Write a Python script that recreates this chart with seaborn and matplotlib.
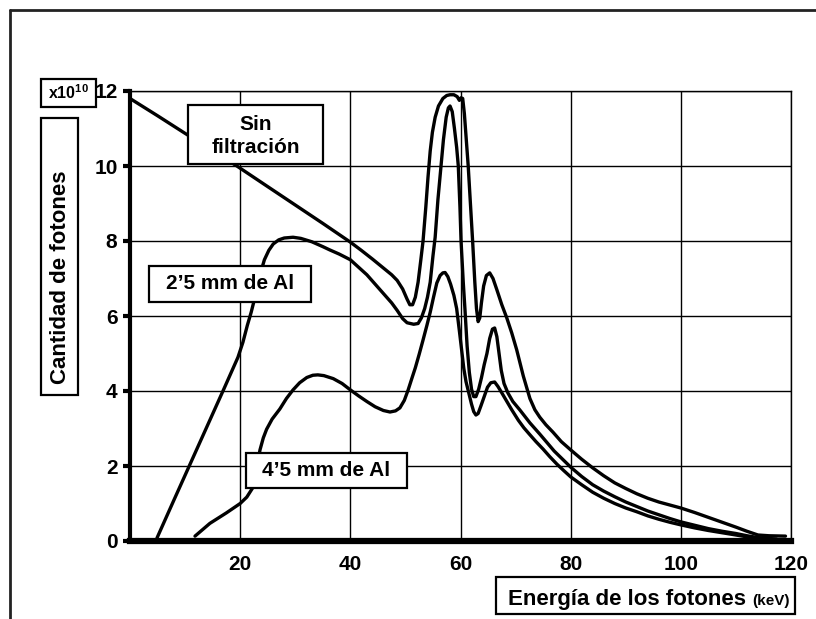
import numpy as np
import pandas as pd
import matplotlib
matplotlib.use("Agg")
import matplotlib.pyplot as plt
from matplotlib.patches import Rectangle
from matplotlib.lines import Line2D
from matplotlib import font_manager
import seaborn as sns

# ─── DATA ─────────────────────────────────────────────────────────────────────
sin_x = [0, 5, 10, 15, 19.4, 25, 30, 35, 40, 42, 44, 46, 47.5, 48.5, 49.5, 50.3,
         50.8, 51.3, 51.8, 52.3, 52.8, 53.2, 53.7, 54.1, 54.5, 54.9, 55.4, 56.0,
         56.8, 57.5, 58.1, 58.8, 59.4, 59.8, 60.1, 60.4, 60.7, 61.0, 61.4, 61.8,
         62.2, 62.6, 62.9, 63.2, 63.5, 63.8, 64.2, 64.7, 65.3, 65.9, 66.6, 67.5,
         68.4, 69.3, 70.2, 71.4, 72.6, 73.5, 74.4, 75.5, 76.8, 78.3, 80, 82, 84,
         86, 88, 90, 92, 94, 96, 98, 100, 102.5, 105, 107.5, 110, 112, 114, 116,
         119]
sin_y = [11.8, 11.34, 10.87, 10.41, 10.0, 9.45, 8.96, 8.47, 7.97, 7.75, 7.52,
         7.28, 7.1, 6.95, 6.72, 6.45, 6.3, 6.3, 6.5, 6.9, 7.5, 8.0, 8.9, 9.7,
         10.4, 10.9, 11.3, 11.6, 11.8, 11.88, 11.9, 11.9, 11.85, 11.75, 11.82,
         11.8, 11.4, 10.8, 10.0, 9.0, 8.0, 6.9, 6.2, 5.85, 5.95, 6.35, 6.8, 7.08,
         7.15, 7.0, 6.7, 6.3, 5.95, 5.55, 5.1, 4.4, 3.8, 3.5, 3.3, 3.1, 2.9, 2.65,
         2.43, 2.18, 1.95, 1.74, 1.55, 1.4, 1.26, 1.14, 1.04, 0.96, 0.88, 0.76,
         0.63, 0.5, 0.37, 0.26, 0.16, 0.14, 0.13]

al25_x = [4.9, 8, 11, 14, 17, 19.6, 20.5, 21.3, 22, 22.6, 23.2, 23.8, 24.4, 25.2,
          26, 27, 28, 29.6, 31, 33, 35, 36.3, 38, 40, 41.5, 43, 44.5, 46, 47.5,
          48.5, 49.5, 50.3, 51.5, 52.3, 52.9, 53.5, 54.0, 54.5, 55.0, 55.4, 55.9,
          56.4, 56.9, 57.4, 57.8, 58.1, 58.5, 58.9, 59.3, 59.6, 59.9, 60.1, 60.5,
          60.8, 61.2, 61.6, 62.0, 62.4, 62.8, 63.3, 63.8, 64.3, 64.8, 65.3, 65.8,
          66.2, 66.6, 67.0, 67.4, 67.9, 68.6, 69.5, 70.8, 72.6, 74.4, 77, 80, 82,
          84, 86, 88, 90, 92, 94, 96, 98, 100, 102.5, 105, 107.5, 110, 112, 114,
          117.4]
al25_y = [0.08, 1.1, 2.08, 3.06, 4.04, 4.9, 5.3, 5.75, 6.1, 6.45, 6.85, 7.2, 7.5,
          7.75, 7.92, 8.03, 8.08, 8.1, 8.07, 7.98, 7.85, 7.76, 7.65, 7.5, 7.3,
          7.1, 6.85, 6.6, 6.35, 6.15, 5.93, 5.82, 5.78, 5.8, 5.95, 6.2, 6.5, 6.9,
          7.6, 8.1, 9.1, 9.9, 10.7, 11.3, 11.55, 11.6, 11.45, 11.0, 10.5, 10.0,
          8.9, 8.0, 6.9, 6.2, 5.2, 4.5, 4.05, 3.85, 3.85, 4.05, 4.35, 4.7, 5.0,
          5.4, 5.65, 5.68, 5.45, 5.0, 4.55, 4.2, 3.95, 3.72, 3.49, 3.15, 2.85,
          2.4, 1.97, 1.72, 1.5, 1.33, 1.18, 1.04, 0.92, 0.8, 0.7, 0.6, 0.51, 0.42,
          0.33, 0.26, 0.2, 0.14, 0.09, 0.05]

al45_x = [11.8, 14.5, 17.5, 20, 21.2, 22.2, 22.8, 23.2, 23.6, 24.2, 24.8, 25.8,
          27.2, 28.4, 29.6, 30.8, 32.1, 33.2, 34.1, 35.2, 36.9, 38.5, 40, 41.5,
          43, 44.5, 46, 47.2, 48.2, 49, 49.8, 50.5, 51.2, 51.8, 52.5, 53.2, 53.9,
          54.5, 55.1, 55.7, 56.3, 56.8, 57.2, 57.7, 58.2, 58.8, 59.3, 59.8, 60.2,
          60.6, 61.0, 61.5, 62.0, 62.4, 62.8, 63.2, 63.7, 64.3, 64.9, 65.5, 66.2,
          66.8, 67.5, 68.3, 69.3, 70.5, 71.5, 72.5, 73.7, 75, 76.2, 77.5, 78.8,
          80, 82, 84, 86, 88, 90, 92, 94, 96, 98, 100, 102.5, 105, 107.5, 110,
          112, 114, 117.4]
al45_y = [0.13, 0.47, 0.75, 1.0, 1.17, 1.4, 1.7, 2.1, 2.43, 2.75, 2.98, 3.25,
          3.52, 3.8, 4.03, 4.22, 4.36, 4.42, 4.43, 4.41, 4.33, 4.2, 4.03, 3.87,
          3.72, 3.58, 3.48, 3.44, 3.47, 3.55, 3.75, 4.03, 4.35, 4.62, 4.98, 5.36,
          5.75, 6.1, 6.5, 6.88, 7.08, 7.15, 7.16, 7.05, 6.85, 6.55, 6.2, 5.6, 5.1,
          4.6, 4.25, 3.95, 3.65, 3.45, 3.36, 3.4, 3.6, 3.85, 4.1, 4.22, 4.24,
          4.12, 3.95, 3.75, 3.5, 3.22, 3.02, 2.85, 2.65, 2.45, 2.25, 2.05, 1.87,
          1.71, 1.5, 1.3, 1.14, 1.0, 0.88, 0.78, 0.67, 0.58, 0.5, 0.43, 0.35,
          0.28, 0.22, 0.16, 0.11, 0.08, 0.04]

x_ticks = [20, 40, 60, 80, 100, 120]
y_ticks = [0, 2, 4, 6, 8, 10, 12]

df = pd.concat([
    pd.DataFrame({"energia": sin_x, "fotones": sin_y, "filtro": "sin"}),
    pd.DataFrame({"energia": al25_x, "fotones": al25_y, "filtro": "al25"}),
    pd.DataFrame({"energia": al45_x, "fotones": al45_y, "filtro": "al45"}),
])

# ─── STYLE ────────────────────────────────────────────────────────────────────
sns.set_theme(style="white")
plt.rcParams.update({
    "font.family": ["Liberation Sans", "DejaVu Sans"],
    "font.weight": "bold",
    "mathtext.fontset": "custom",
    "mathtext.rm": "Liberation Sans:bold",
    "mathtext.bf": "Liberation Sans:bold",
})
installed = {f.name for f in font_manager.fontManager.ttflist}
narrow = "Liberation Sans Narrow" if "Liberation Sans Narrow" in installed else "Liberation Sans"

W, H = 816, 619
fig = plt.figure(figsize=(W / 100, H / 100), dpi=100)
ax = fig.add_axes([130 / W, 1 - 541 / H, (791 - 130) / W, (541 - 91) / H])

for name, g in df.groupby("filtro", sort=False):
    sns.lineplot(data=g, x="energia", y="fotones", ax=ax, color="black",
                 linewidth=2.4, sort=False, estimator=None, legend=False,
                 solid_capstyle="round", solid_joinstyle="round", zorder=3)

ax.set_xlim(0, 120)
ax.set_ylim(0, 12)
ax.set_xticks(x_ticks)
ax.set_yticks(y_ticks)
ax.set_xticklabels([str(t) for t in x_ticks], fontsize=15, fontweight="bold")
ax.set_yticklabels([str(t) for t in y_ticks], fontsize=15, fontweight="bold",
                   family=[narrow, "DejaVu Sans"])
ax.tick_params(axis="x", length=0, pad=10, colors="black")
ax.tick_params(axis="y", length=5, width=3, pad=4, colors="black", left=True)
ax.set_xlabel("")
ax.set_ylabel("")
ax.grid(True, color="black", linewidth=1.0)
ax.set_axisbelow(True)

for s in ["top", "right"]:
    ax.spines[s].set_linewidth(1.0)
    ax.spines[s].set_color("black")
ax.spines["left"].set_linewidth(3)
ax.spines["left"].set_color("black")
ax.spines["bottom"].set_linewidth(4.5)
ax.spines["bottom"].set_color("black")
ax.spines["bottom"].set_zorder(4)

# outer frame (left + top)
fig.add_artist(Line2D([10 / W, 10 / W], [0, 1 - 10 / H], color="#222222",
                      linewidth=2, transform=fig.transFigure))
fig.add_artist(Line2D([10 / W, 1], [1 - 10 / H, 1 - 10 / H], color="#222222",
                      linewidth=2, transform=fig.transFigure))


def box(x0, y0, x1, y1):
    fig.add_artist(Rectangle((x0 / W, 1 - y1 / H), (x1 - x0) / W, (y1 - y0) / H,
                             transform=fig.transFigure, facecolor="white",
                             edgecolor="black", linewidth=1.6, zorder=5))


def label(x, y, text, **kw):
    return fig.text(x / W, 1 - y / H, text, zorder=6, fontweight="bold",
                    color="black", **kw)


box(188, 105, 323, 164)
label(255.5, 136, "Sin\nfiltración", fontsize=15, ha="center", va="center",
      linespacing=1.25)

box(149, 266, 311, 302)
label(230, 284, "2’5 mm de Al", fontsize=15, ha="center", va="center")

box(246, 453, 407, 488)
label(326.5, 470.5, "4’5 mm de Al", fontsize=15, ha="center", va="center")

box(41, 118, 78, 395)
label(60, 277, "Cantidad de fotones", fontsize=16, ha="center", va="center",
      rotation=90)

box(41, 79, 96, 107)
label(68.5, 93, r"$\mathbf{x10^{10}}$", fontsize=11.5, ha="center", va="center")

box(496, 577, 795, 614)
t1 = label(508, 605, "Energía de los fotones", fontsize=16, ha="left", va="baseline")
fig.canvas.draw()
ext = t1.get_window_extent(renderer=fig.canvas.get_renderer())
label(ext.x1 + 6, 605, "(keV)", fontsize=11, ha="left", va="baseline")

plt.savefig("out.png", dpi=100)
plt.close()
